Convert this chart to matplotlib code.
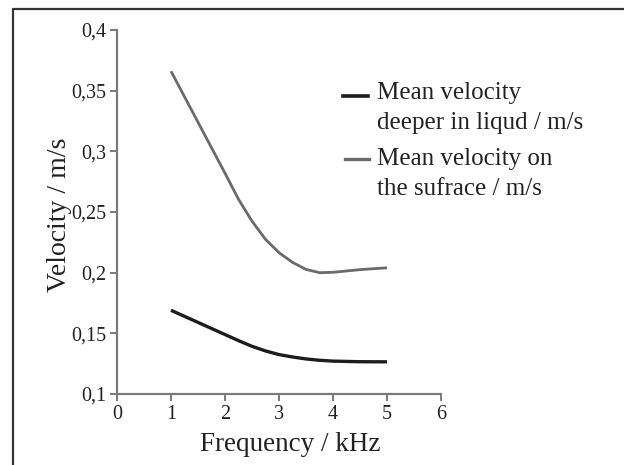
import matplotlib
matplotlib.use("Agg")
import matplotlib.pyplot as plt
from matplotlib.lines import Line2D
from matplotlib.ticker import FuncFormatter

plt.rcParams['font.family'] = ['Liberation Serif', 'DejaVu Serif']

freq = [1, 1.5, 2, 2.25, 2.5, 2.75, 3, 3.25, 3.5, 3.75, 4, 4.5, 5]
surface = [0.366, 0.324, 0.282, 0.2605, 0.2425, 0.2275, 0.2165, 0.2085, 0.2027, 0.2, 0.2003, 0.2025, 0.204]
deeper = [0.169, 0.159, 0.149, 0.144, 0.1393, 0.1355, 0.1325, 0.1305, 0.1289, 0.1278, 0.1271, 0.1266, 0.1265]

legend_labels = [["Mean velocity", "deeper in liqud / m/s"],
                 ["Mean velocity on", "the sufrace / m/s"]]
xlabel = "Frequency / kHz"
ylabel = "Velocity / m/s"

W, H = 624, 465
fig = plt.figure(figsize=(W / 100, H / 100), dpi=100)
fig.patch.set_facecolor('white')

def fx(px):
    return px / W

def fy(py):
    return 1 - py / H

ax = fig.add_axes([fx(117), fy(394), fx(441) - fx(117), fy(30) - fy(394)])

c_black = '#1c1c1c'
c_gray = '#6a6a6a'
ax.plot(freq, deeper, color=c_black, lw=2.4, solid_capstyle='butt', solid_joinstyle='round')
ax.plot(freq, surface, color=c_gray, lw=2.0, solid_capstyle='butt', solid_joinstyle='round')

ax.set_xlim(0, 6)
ax.set_ylim(0.1, 0.4)
ax.set_xticks(range(0, 7))
ax.set_yticks([0.1, 0.15, 0.2, 0.25, 0.3, 0.35, 0.4])

def comma(v, pos):
    s = ('%.2f' % v).rstrip('0').rstrip('.')
    return s.replace('.', ',')

ax.yaxis.set_major_formatter(FuncFormatter(comma))

for s in ['top', 'right']:
    ax.spines[s].set_visible(False)
axis_col = '#7a7a7a'
for s in ['left', 'bottom']:
    ax.spines[s].set_color(axis_col)
    ax.spines[s].set_linewidth(1.6)
ax.tick_params(direction='out', length=5, width=1.4, color=axis_col,
               labelsize=14.5, labelcolor='#222222', pad=3)

ax.set_xlabel(xlabel, fontsize=19.5, color='#222222')
ax.xaxis.set_label_coords(0.535, -0.105)
ax.set_ylabel(ylabel, fontsize=20, color='#222222')
ax.yaxis.set_label_coords(-0.139, 0.492)

# legend (manual)
handles = [(c_black, 2.6, 96, 343, 368), (c_gray, 2.4, 159, 345, 369)]
baselines = [[99, 129], [165, 195]]
for (col, lw, y, x0, x1), lines, bls in zip(handles, legend_labels, baselines):
    fig.add_artist(Line2D([fx(x0), fx(x1)], [fy(y), fy(y)], color=col, lw=lw,
                          transform=fig.transFigure))
    for txt, b in zip(lines, bls):
        fig.text(fx(377), fy(b), txt, fontsize=18, color='#222222',
                 ha='left', va='baseline')

# frame
fig.add_artist(Line2D([fx(13), fx(13), 1.0], [0.0, fy(9), fy(9)],
                      color='#333333', lw=1.6, transform=fig.transFigure))

fig.savefig('out.png', dpi=100)
